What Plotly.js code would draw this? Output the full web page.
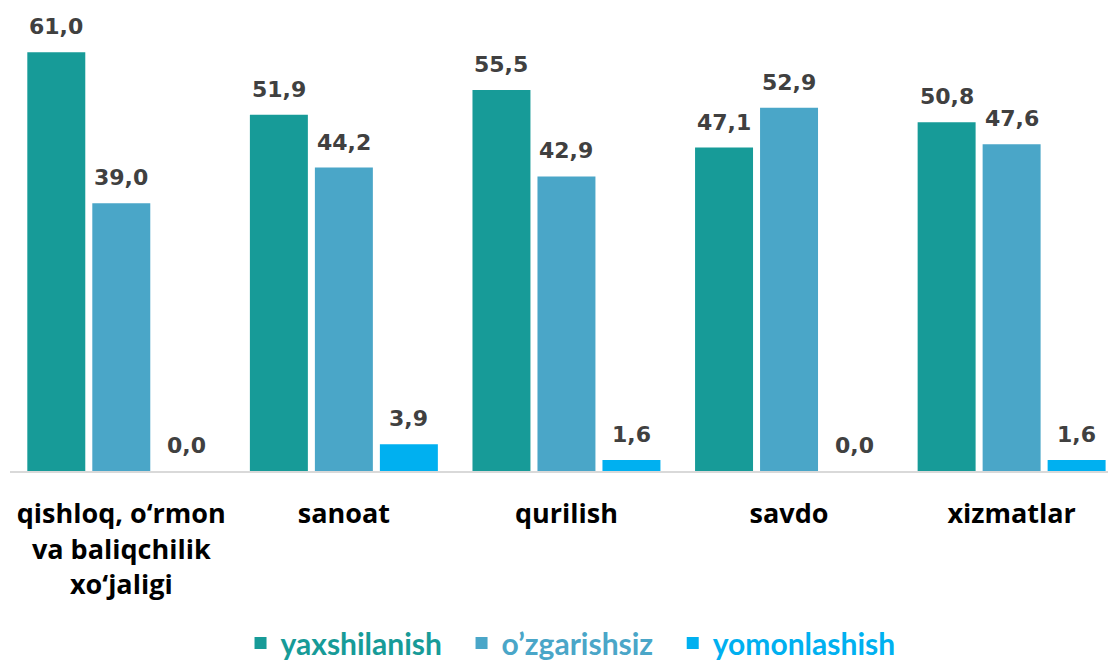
<!DOCTYPE html>
<html>
<head>
<meta charset="utf-8">
<script src="https://cdn.plot.ly/plotly-3.0.1.min.js"></script>
<style>html,body{margin:0;padding:0;background:#fff;}#chart{width:1108px;height:665px;}</style>
</head>
<body>
<div id="chart"></div>
<script>
const categories = ["qishloq, o‘rmon<br>va baliqchilik<br>xo‘jaligi", "sanoat", "qurilish", "savdo", "xizmatlar"];
const seriesNames = ["yaxshilanish", "o’zgarishsiz", "yomonlashish"];
const yaxshilanish = [61.0, 51.9, 55.5, 47.1, 50.8];
const ozgarishsiz = [39.0, 44.2, 42.9, 52.9, 47.6];
const yomonlashish = [0.0, 3.9, 1.6, 0.0, 1.6];
const seriesValues = [yaxshilanish, ozgarishsiz, yomonlashish];
const colors = ["#179B98", "#4AA6C8", "#00B0F0"];

const fmt = v => v.toFixed(1).replace('.', ',');
const idx = categories.map((c, i) => i);

const traces = seriesValues.map((vals, s) => ({
  type: 'bar',
  x: idx,
  y: vals,
  name: '<span style="color:' + colors[s] + '">' + seriesNames[s] + '</span>' + (s < 2 ? '&nbsp;&nbsp;' : ''),
  marker: {color: colors[s]},
  hoverinfo: 'skip'
}));

const slot = 0.292;
const annotations = [];
seriesValues.forEach((vals, s) => {
  vals.forEach((v, i) => {
    annotations.push({
      x: i + (s - 1) * slot,
      y: v,
      xref: 'x', yref: 'y',
      text: fmt(v),
      showarrow: false,
      yanchor: 'bottom',
      yshift: 11,
      font: {family: 'DejaVu Sans, sans-serif', size: 22, color: '#404040', weight: 'bold'}
    });
  });
});

const layout = {
  width: 1108, height: 665,
  margin: {l: 10, r: 0, t: 0, b: 194, autoexpand: false},
  paper_bgcolor: '#fff', plot_bgcolor: '#fff',
  barmode: 'group',
  bargap: 0.124,
  bargroupgap: 0.108,
  showlegend: true,
  legend: {
    orientation: 'h', x: 0.5105, xanchor: 'center', y: -0.31, yanchor: 'top',
    font: {family: 'Lato, Open Sans, sans-serif', size: 30, weight: 'bold'},
    itemwidth: 30, traceorder: 'normal'
  },
  xaxis: {
    type: 'linear',
    range: [-0.5, 4.433],
    tickmode: 'array', tickvals: idx, ticktext: categories,
    showline: true, linecolor: '#d9d9d9', linewidth: 2,
    showgrid: false, zeroline: false, ticks: '',
    tickfont: {family: 'Open Sans, sans-serif', size: 27, color: '#000', weight: 'bold'},
    ticklabelstandoff: 18,
    automargin: false,
    fixedrange: true
  },
  yaxis: {
    range: [0, 68.6], visible: false, showgrid: false, zeroline: false, fixedrange: true
  },
  annotations: annotations
};

Plotly.newPlot('chart', traces, layout, {displayModeBar: false, staticPlot: true});
</script>
</body>
</html>
